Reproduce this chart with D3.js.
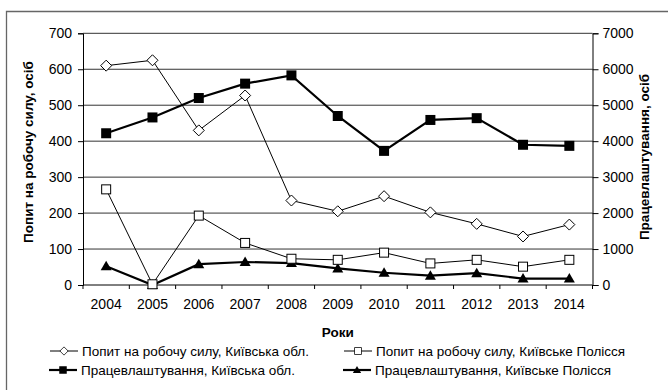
<!DOCTYPE html>
<html>
<head>
<meta charset="utf-8">
<script src="https://cdn.jsdelivr.net/npm/d3@7"></script>
<style>
  html, body { margin: 0; padding: 0; background: #fff; }
  svg { display: block; font-family: "Liberation Sans", Arial, sans-serif; }
</style>
</head>
<body>
<svg id="chart" width="668" height="390"></svg>
<script>
// ---------- DATA ----------
const years = ["2004","2005","2006","2007","2008","2009","2010","2011","2012","2013","2014"];
const demandKyivObl = [610, 625, 430, 527, 235, 205, 247, 202, 170, 135, 168];
const demandPolissia = [266, 2, 193, 117, 73, 70, 90, 60, 70, 51, 70];
const employKyivObl = [4220, 4660, 5200, 5600, 5830, 4700, 3730, 4590, 4640, 3900, 3870];
const employPolissia = [520, 0, 580, 640, 610, 460, 340, 260, 330, 180, 180];
const leftTicks = [0, 100, 200, 300, 400, 500, 600, 700];
const rightTicks = [0, 1000, 2000, 3000, 4000, 5000, 6000, 7000];

const legendLabels = [
  "Попит на робочу силу, Київська обл.",
  "Попит на робочу силу, Київське Полісся",
  "Працевлаштування, Київська обл.",
  "Працевлаштування, Київське Полісся"
];

// ---------- LAYOUT ----------
const svg = d3.select("#chart");
const L = 83, R = 592.5, T = 33.3, B = 285;

const x = d3.scaleBand().domain(years).range([L, R]).padding(0);
const yL = d3.scaleLinear().domain([0, 700]).range([B, T]);
const yR = d3.scaleLinear().domain([0, 7000]).range([B, T]);
const cx = d => x(d) + x.bandwidth() / 2;

// outer frame
svg.append("path")
  .attr("d", "M6.5,400 L6.5,11.5 L680,11.5")
  .attr("fill", "none").attr("stroke", "#666").attr("stroke-width", 1.3);

// gridlines
svg.append("g").selectAll("line").data(leftTicks.filter(t => t > 0)).join("line")
  .attr("x1", L).attr("x2", R)
  .attr("y1", d => yL(d)).attr("y2", d => yL(d))
  .attr("stroke", "#333").attr("stroke-width", 1);

// left axis
const gl = svg.append("g").attr("transform", `translate(${L},0)`)
  .call(d3.axisLeft(yL).tickValues(leftTicks).tickSize(5).tickPadding(6).tickFormat(d3.format("d")));
// right axis
const gr = svg.append("g").attr("transform", `translate(${R},0)`)
  .call(d3.axisRight(yR).tickValues(rightTicks).tickSize(6).tickPadding(4).tickFormat(d3.format("d")));
// x axis
const gx = svg.append("g").attr("transform", `translate(0,${B})`)
  .call(d3.axisBottom(x).tickSize(0).tickPadding(14));
// x-axis boundary ticks
svg.append("g").selectAll("line").data(years.concat(["end"])).join("line")
  .attr("x1", (d, i) => L + i * x.bandwidth()).attr("x2", (d, i) => L + i * x.bandwidth())
  .attr("y1", B).attr("y2", B + 4).attr("stroke", "#000");

[gl, gr, gx].forEach(g => {
  g.selectAll("path.domain").attr("stroke", "#000").attr("stroke-width", 1);
  g.selectAll(".tick line").attr("stroke", "#000");
  g.selectAll("text").attr("font-size", 14).attr("fill", "#000")
    .attr("font-family", "'Liberation Sans', Arial, sans-serif");
});
gx.select("path.domain").attr("d", `M${L},0H${R}`);

// axis titles
svg.append("text").attr("transform", "translate(33,152) rotate(-90)")
  .attr("text-anchor", "middle").attr("font-weight", "bold").attr("font-size", 13.5)
  .text("Попит на робочу силу, осіб");
svg.append("text").attr("transform", "translate(649,157) rotate(-90)")
  .attr("text-anchor", "middle").attr("font-weight", "bold").attr("font-size", 13.5)
  .text("Працевлаштування, осіб");
svg.append("text").attr("x", (L + R) / 2).attr("y", 337)
  .attr("text-anchor", "middle").attr("font-weight", "bold").attr("font-size", 13.5)
  .text("Роки");

// ---------- SERIES ----------
const markers = {
  diamond: (g) => g.append("path").attr("d", "M0,-5.5L5.5,0L0,5.5L-5.5,0Z").attr("fill", "#fff").attr("stroke", "#000").attr("stroke-width", 1),
  openSquare: (g) => g.append("rect").attr("x", -4.5).attr("y", -4.5).attr("width", 9).attr("height", 9).attr("fill", "#fff").attr("stroke", "#000").attr("stroke-width", 1),
  filledSquare: (g) => g.append("rect").attr("x", -5).attr("y", -5).attr("width", 10).attr("height", 10).attr("fill", "#000"),
  triangle: (g) => g.append("path").attr("d", "M0,-5.5L5.5,4L-5.5,4Z").attr("fill", "#000")
};

const series = [
  { vals: demandKyivObl, y: yL, width: 1, marker: "diamond" },
  { vals: demandPolissia, y: yL, width: 1, marker: "openSquare" },
  { vals: employKyivObl, y: yR, width: 2.2, marker: "filledSquare" },
  { vals: employPolissia, y: yR, width: 2.2, marker: "triangle" }
];

const drawOrder = [2, 3, 1, 0];
drawOrder.forEach(si => {
  const s = series[si];
  const line = d3.line().x((d, i) => cx(years[i])).y(d => s.y(d));
  svg.append("path").datum(s.vals).attr("d", line)
    .attr("fill", "none").attr("stroke", "#000").attr("stroke-width", s.width);
  s.vals.forEach((v, i) => {
    const g = svg.append("g").attr("transform", `translate(${cx(years[i])},${s.y(v)})`);
    markers[s.marker](g);
  });
});

// ---------- LEGEND ----------
const legendPos = [
  { lx: 50, ty: 351 }, { lx: 344, ty: 351 },
  { lx: 49, ty: 370 }, { lx: 343, ty: 370 }
];
legendLabels.forEach((lab, i) => {
  const p = legendPos[i];
  const s = series[i];
  svg.append("line").attr("x1", p.lx).attr("x2", p.lx + 28).attr("y1", p.ty).attr("y2", p.ty)
    .attr("stroke", "#000").attr("stroke-width", s.width);
  const g = svg.append("g").attr("transform", `translate(${p.lx + 14},${p.ty})`);
  markers[s.marker](g);
  g.selectAll("*").attr("transform", "scale(0.75)");
  svg.append("text").attr("x", p.lx + 32).attr("y", p.ty).attr("dy", "0.35em")
    .attr("font-size", 13.5).text(lab);
});
</script>
</body>
</html>
